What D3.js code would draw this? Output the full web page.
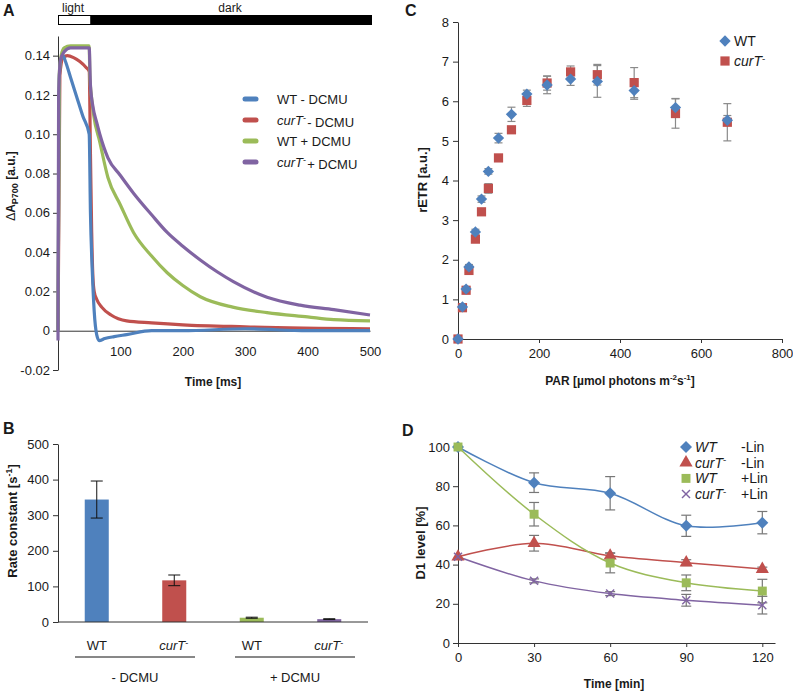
<!DOCTYPE html>
<html>
<head>
<meta charset="utf-8">
<script src="https://cdn.jsdelivr.net/npm/d3@7"></script>
<style>
body { margin: 0; background: #fff; }
svg text { font-family: "Liberation Sans", Arial, sans-serif; fill: #1a1a1a; }
.axis path, .axis line { stroke: #333; }
.axis text { font-size: 13px; fill: #1a1a1a; }
</style>
</head>
<body>
<svg id="fig" width="793" height="692"></svg>
<script>
// ---- panel A : P700 traces, [time ms, dA] ----
let aWtMinus = [[0, 0], [2, 0.128], [5, 0.139], [8, 0.14], [12, 0.137], [20, 0.129], [30, 0.119], [40, 0.109], [50, 0.1],
    [52, 0.06], [55, 0.03], [58, 0.01], [62, -0.002], [66, -0.005], [75, -0.004], [90, -0.003], [110, -0.002],
    [150, 0], [200, 0], [300, 0.001], [400, 0], [500, 0]];
let aCurMinus = [[0, 0], [3, 0.13], [8, 0.139], [15, 0.14], [25, 0.139], [35, 0.137], [45, 0.134], [50, 0.132],
    [52, 0.09], [54, 0.05], [56, 0.027], [58, 0.02], [62, 0.016], [70, 0.012], [85, 0.008], [110, 0.005],
    [150, 0.004], [200, 0.003], [300, 0.002], [500, 0.001]];
let aWtPlus = [[0, 0], [2, 0.13], [5, 0.14], [10, 0.144], [20, 0.145], [50, 0.145], [51, 0.13], [54, 0.118], [57, 0.11],
    [67, 0.096], [80, 0.078], [100, 0.064], [121, 0.05], [150, 0.038], [175, 0.0295], [200, 0.023], [228, 0.0173],
    [280, 0.012], [335, 0.0092], [400, 0.007], [442, 0.0056], [500, 0.005]];
let aCurPlus = [[0, -0.005], [1, 0.12], [4, 0.138], [10, 0.142], [20, 0.144], [50, 0.144], [52, 0.125], [56, 0.114],
    [62, 0.106], [67, 0.1], [80, 0.088], [100, 0.079], [121, 0.07], [150, 0.059], [175, 0.05], [200, 0.043],
    [228, 0.036], [255, 0.03], [281, 0.025], [335, 0.017], [388, 0.013], [442, 0.0107], [500, 0.008]];
let aTicks = [-0.02, 0, 0.02, 0.04, 0.06, 0.08, 0.1, 0.12, 0.14];
let aTimeTicks = [100, 200, 300, 400, 500];
let aLightEnd = 50;

// ---- panel B : rate constants ----
let bCats = ["WT-", "cur-", "WT+", "cur+"];
let bValues = [344, 117, 12, 8];
let bErrors = [52, 15, 1.5, 1.2];
let bTicks = [0, 100, 200, 300, 400, 500];

// ---- panel C : light curve ----
let cPar = [0, 11, 20, 27, 43, 58, 75, 100, 132, 170, 220, 278, 344, 435, 537, 665];
let cWt = [0, 0.81, 1.26, 1.82, 2.7, 3.53, 4.23, 5.07, 5.67, 6.18, 6.41, 6.56, 6.5, 6.27, 5.84, 5.52];
let cWtErr = [0, 0.03, 0.05, 0.06, 0.07, 0.08, 0.07, 0.12, 0.18, 0.1, 0.22, 0.16, 0.4, 0.22, 0.23, 0.12];
let cCur = [0, 0.79, 1.23, 1.73, 2.52, 3.21, 3.8, 4.57, 5.28, 6.02, 6.46, 6.74, 6.67, 6.47, 5.69, 5.47];
let cCurErr = [0, 0.03, 0.04, 0.05, 0.06, 0.05, 0.12, 0.06, 0.06, 0.15, 0.18, 0.15, 0.26, 0.38, 0.37, 0.47];
let cXTicks = [0, 200, 400, 600, 800];
let cYTicks = [0, 1, 2, 3, 4, 5, 6, 7, 8];

// ---- panel D : D1 level ----
let dTime = [0, 30, 60, 90, 120];
let dWtMinus = [100, 81.8, 76.4, 59.8, 61.4];
let dWtMinusErr = [0, 5, 8.5, 5.4, 5.7];
let dCurMinus = [44, 50.9, 44.5, 41, 37.7];
let dCurMinusErr = [0, 4, 1.5, 1.5, 1];
let dWtPlus = [100, 65.7, 40.8, 30.7, 26.5];
let dWtPlusErr = [0, 6, 5, 4, 6];
let dCurPlus = [44, 31.7, 25.2, 21.8, 19.3];
let dCurPlusErr = [0, 1, 1, 3, 4.5];
let dYTicks = [0, 20, 40, 60, 80, 100];

let blue = "#4f81bd", red = "#c0504d", green = "#9bbb59", purple = "#8064a2";

let svg = d3.select("#fig");

// small helper for "curT-" with superscript minus
function curT(sel) {
    sel.append("tspan").attr("font-style", "italic").text("curT");
    sel.append("tspan").attr("font-size", "0.7em").attr("dy", "-0.45em").text("-");
    sel.append("tspan").attr("dy", "0.45em").text("\u200a");
}

function panelLabel(t, x, y) {
    svg.append("text").attr("x", x).attr("y", y)
        .attr("font-size", 16).attr("font-weight", "bold").text(t);
}

// excel-like diamond = square turned by 45 degrees
function diamond(x, y, size, color) {
    svg.append("path").attr("transform", "translate(" + x + "," + y + ") rotate(45)")
        .attr("d", d3.symbol().type(d3.symbolSquare).size(size)).attr("fill", color);
}

// ================= A =================
panelLabel("A", 3, 16);
let xA = d3.scaleLinear().domain([0, 500]).range([58, 370]);
let yA = d3.scaleLinear().domain([-0.02, 0.15]).range([370, 36]);

// light / dark bar
svg.append("rect").attr("x", xA(0)).attr("y", 15).attr("width", xA(500) - xA(0) + 2).attr("height", 10).attr("fill", "#000");
svg.append("rect").attr("x", xA(0) + 1).attr("y", 16).attr("width", xA(aLightEnd) - xA(0)).attr("height", 8)
    .attr("fill", "#fff").attr("stroke", "none");
svg.append("text").attr("x", 73).attr("y", 12).attr("text-anchor", "middle").attr("font-size", 12).text("light");
svg.append("text").attr("x", 230).attr("y", 12).attr("text-anchor", "middle").attr("font-size", 12).text("dark");

svg.append("g").attr("class", "axis")
    .attr("transform", "translate(" + xA(0) + ",0)")
    .call(d3.axisLeft(yA).tickValues(aTicks).tickSize(5).tickSizeOuter(0).tickPadding(3)
        .tickFormat(function (d) { return d === 0 ? "0" : d.toFixed(2); }));

svg.append("g").attr("class", "axis")
    .attr("transform", "translate(0," + yA(0) + ")")
    .call(d3.axisBottom(xA).tickValues(aTimeTicks).tickSize(0).tickSizeOuter(0).tickPadding(16));

let lineA = d3.line()
    .x(function (d) { return xA(d[0]); })
    .y(function (d) { return yA(d[1]); })
    .curve(d3.curveMonotoneX);

[[aCurMinus, red], [aWtMinus, blue], [aWtPlus, green], [aCurPlus, purple]].forEach(function (s) {
    svg.append("path").datum(s[0])
        .attr("fill", "none").attr("stroke", s[1]).attr("stroke-width", 3.2)
        .attr("stroke-linejoin", "round").attr("d", lineA);
});

// legend A
let legA = [["WT - DCMU", blue, false], [" - DCMU", red, true], ["WT + DCMU", green, false], [" + DCMU", purple, true]];
legA.forEach(function (l, i) {
    let y = 99 + i * 21;
    svg.append("line").attr("x1", 245).attr("x2", 256).attr("y1", y).attr("y2", y)
        .attr("stroke", l[1]).attr("stroke-width", 5).attr("stroke-linecap", "round");
    let t = svg.append("text").attr("x", 277).attr("y", y + 5).attr("font-size", 13);
    if (l[2]) { curT(t); t.append("tspan").text(l[0].trim()); }
    else t.text(l[0]);
});

svg.append("text").attr("x", 213).attr("y", 386).attr("text-anchor", "middle")
    .attr("font-size", 12).attr("font-weight", "bold").text("Time [ms]");
let tA = svg.append("text").attr("transform", "translate(15,186) rotate(-90)")
    .attr("text-anchor", "middle").attr("font-size", 12).attr("font-weight", "bold");
tA.append("tspan").attr("font-weight", "normal").text("\u0394");
tA.append("tspan").text("A");
tA.append("tspan").attr("font-size", 9).attr("dy", 3).text("P700");
tA.append("tspan").attr("dy", -3).text(" [a.u.]");

// ================= B =================
panelLabel("B", 3, 434);
let xB = d3.scaleBand().domain(bCats).range([58, 368]).paddingInner(0.69).paddingOuter(0.345);
let yB = d3.scaleLinear().domain([0, 500]).range([622, 444]);

svg.append("g").attr("class", "axis")
    .attr("transform", "translate(58,0)")
    .call(d3.axisLeft(yB).tickValues(bTicks).tickSize(5).tickSizeOuter(0).tickPadding(4));

let bColors = [blue, red, green, purple];
svg.selectAll(".barB").data(bValues).enter().append("rect")
    .attr("x", function (d, i) { return xB(bCats[i]); })
    .attr("y", function (d) { return yB(d); })
    .attr("width", xB.bandwidth())
    .attr("height", function (d) { return yB(0) - yB(d); })
    .attr("fill", function (d, i) { return bColors[i]; });

bValues.forEach(function (v, i) {
    let cx = xB(bCats[i]) + xB.bandwidth() / 2;
    let e = bErrors[i];
    let g = svg.append("g").attr("stroke", "#111").attr("stroke-width", 1);
    g.append("line").attr("x1", cx).attr("x2", cx).attr("y1", yB(v + e)).attr("y2", yB(v - e));
    g.append("line").attr("x1", cx - 6).attr("x2", cx + 6).attr("y1", yB(v + e)).attr("y2", yB(v + e));
    g.append("line").attr("x1", cx - 6).attr("x2", cx + 6).attr("y1", yB(v - e)).attr("y2", yB(v - e));
});

svg.append("line").attr("x1", 58).attr("x2", 368).attr("y1", yB(0)).attr("y2", yB(0)).attr("stroke", "#333");

bCats.forEach(function (c, i) {
    let cx = xB(c) + xB.bandwidth() / 2;
    let t = svg.append("text").attr("x", cx).attr("y", 650).attr("text-anchor", "middle").attr("font-size", 13);
    if (i % 2 === 0) t.text("WT"); else curT(t);
});
[[75, 195, "- DCMU"], [235, 355, "+ DCMU"]].forEach(function (g) {
    svg.append("line").attr("x1", g[0]).attr("x2", g[1]).attr("y1", 657).attr("y2", 657).attr("stroke", "#111");
    svg.append("text").attr("x", (g[0] + g[1]) / 2).attr("y", 682).attr("text-anchor", "middle").attr("font-size", 13).text(g[2]);
});

let tB = svg.append("text").attr("transform", "translate(17,521) rotate(-90)")
    .attr("text-anchor", "middle").attr("font-size", 13).attr("font-weight", "bold");
tB.append("tspan").text("Rate constant [s");
tB.append("tspan").attr("font-size", 9).attr("dy", -5).text("-1");
tB.append("tspan").attr("dy", 5).text("]");

// ================= C =================
panelLabel("C", 405, 16);
let xC = d3.scaleLinear().domain([0, 800]).range([458, 782]);
let yC = d3.scaleLinear().domain([0, 8]).range([339, 22]);

svg.append("g").attr("class", "axis")
    .attr("transform", "translate(458,0)")
    .call(d3.axisLeft(yC).tickValues(cYTicks).tickSize(5).tickSizeOuter(0).tickPadding(4));
svg.append("g").attr("class", "axis")
    .attr("transform", "translate(0,339)")
    .call(d3.axisBottom(xC).tickValues(cXTicks).tickSize(4).tickSizeOuter(0).tickPadding(6));

function errBars(xs, ys, es, xScale, yScale, color, cap) {
    let g = svg.append("g").attr("stroke", color).attr("stroke-width", 1.2);
    xs.forEach(function (xv, i) {
        if (!es[i]) return;
        let cx = xScale(xv), y1 = yScale(ys[i] + es[i]), y2 = yScale(ys[i] - es[i]);
        g.append("line").attr("x1", cx).attr("x2", cx).attr("y1", y1).attr("y2", y2);
        g.append("line").attr("x1", cx - cap).attr("x2", cx + cap).attr("y1", y1).attr("y2", y1);
        g.append("line").attr("x1", cx - cap).attr("x2", cx + cap).attr("y1", y2).attr("y2", y2);
    });
}

errBars(cPar, cWt, cWtErr, xC, yC, "#8a8a8a", 4);
errBars(cPar, cCur, cCurErr, xC, yC, "#8a8a8a", 4);

let sqSym = d3.symbol().type(d3.symbolSquare).size(85);

svg.selectAll(".curC").data(cPar).enter().append("path")
    .attr("transform", function (d, i) { return "translate(" + xC(d) + "," + yC(cCur[i]) + ")"; })
    .attr("d", sqSym).attr("fill", red);
cPar.forEach(function (p, i) { diamond(xC(p), yC(cWt[i]), 64, blue); });

diamond(725, 41, 64, blue);
svg.append("text").attr("x", 734).attr("y", 46).attr("font-size", 14).text("WT");
svg.append("path").attr("transform", "translate(725,61)").attr("d", sqSym).attr("fill", red);
curT(svg.append("text").attr("x", 734).attr("y", 66).attr("font-size", 14));

let tC = svg.append("text").attr("x", 620).attr("y", 385).attr("text-anchor", "middle")
    .attr("font-size", 12).attr("font-weight", "bold");
tC.append("tspan").text("PAR [\u00b5mol photons m");
tC.append("tspan").attr("font-size", 8).attr("dy", -5).text("-2");
tC.append("tspan").attr("dy", 5).text("s");
tC.append("tspan").attr("font-size", 8).attr("dy", -5).text("-1");
tC.append("tspan").attr("dy", 5).text("]");
svg.append("text").attr("transform", "translate(427,180) rotate(-90)")
    .attr("text-anchor", "middle").attr("font-size", 13).attr("font-weight", "bold").text("rETR [a.u.]");

// ================= D =================
panelLabel("D", 402, 436);
let xD = d3.scaleLinear().domain([0, 125]).range([458, 775]);
let yD = d3.scaleLinear().domain([0, 100]).range([643, 447]);

svg.append("g").attr("class", "axis")
    .attr("transform", "translate(458,0)")
    .call(d3.axisLeft(yD).tickValues(dYTicks).tickSize(5).tickSizeOuter(0).tickPadding(3));
svg.append("g").attr("class", "axis")
    .attr("transform", "translate(0,643)")
    .call(d3.axisBottom(xD).tickValues(dTime).tickSize(4).tickSizeOuter(0).tickPadding(6));

let lineD = d3.line().curve(d3.curveCatmullRom.alpha(0.5));
let dSeries = [
    { v: dWtMinus, e: dWtMinusErr, c: blue, sym: "diamond" },
    { v: dCurMinus, e: dCurMinusErr, c: red, sym: "triangle" },
    { v: dWtPlus, e: dWtPlusErr, c: green, sym: "square" },
    { v: dCurPlus, e: dCurPlusErr, c: purple, sym: "cross" }
];

dSeries.forEach(function (s) {
    errBars(dTime, s.v, s.e, xD, yD, "#777", 5);
});
dSeries.forEach(function (s) {
    svg.append("path")
        .attr("d", lineD(dTime.map(function (t, i) { return [xD(t), yD(s.v[i])]; })))
        .attr("fill", "none").attr("stroke", s.c).attr("stroke-width", 1.5);
});

function marker(sym, color, x, y) {
    if (sym === "cross") {
        let g = svg.append("g").attr("stroke", color).attr("stroke-width", 1.4);
        g.append("line").attr("x1", x - 4).attr("x2", x + 4).attr("y1", y - 4).attr("y2", y + 4);
        g.append("line").attr("x1", x - 4).attr("x2", x + 4).attr("y1", y + 4).attr("y2", y - 4);
        return;
    }
    if (sym === "diamond") { diamond(x, y, 72, color); return; }
    let type = sym === "triangle" ? d3.symbolTriangle : d3.symbolSquare;
    let size = sym === "triangle" ? 75 : 80;
    svg.append("path").attr("transform", "translate(" + x + "," + y + ")")
        .attr("d", d3.symbol().type(type).size(size)).attr("fill", color);
}

dSeries.forEach(function (s) {
    dTime.forEach(function (t, i) { marker(s.sym, s.c, xD(t), yD(s.v[i])); });
});

// legend D
let legD = [["WT", "-Lin"], ["cur", "-Lin"], ["WT", "+Lin"], ["cur", "+Lin"]];
legD.forEach(function (l, i) {
    let y = 447 + i * 15.7;
    marker(dSeries[i].sym, dSeries[i].c, 686, y);
    let t = svg.append("text").attr("x", 695).attr("y", y + 5).attr("font-size", 14);
    if (l[0] === "WT") t.attr("font-style", "italic").text("WT"); else curT(t);
    svg.append("text").attr("x", 741).attr("y", y + 5).attr("font-size", 14).text(l[1]);
});

svg.append("text").attr("x", 614).attr("y", 688).attr("text-anchor", "middle")
    .attr("font-size", 12).attr("font-weight", "bold").text("Time [min]");
svg.append("text").attr("transform", "translate(425,543) rotate(-90)")
    .attr("text-anchor", "middle").attr("font-size", 13).attr("font-weight", "bold").text("D1 level [%]");
</script>
</body>
</html>
